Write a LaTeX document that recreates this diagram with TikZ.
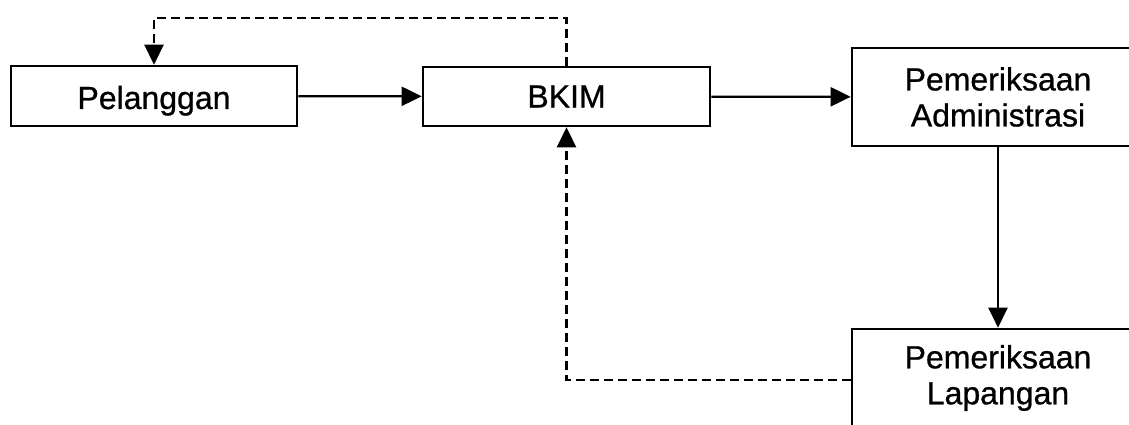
\documentclass[tikz,border=0pt]{standalone}
\usepackage{fontspec}
\setmainfont[FakeBold=0.8]{Liberation Sans}
\usetikzlibrary{arrows.meta}
\begin{document}
\begin{tikzpicture}[x=1pt,y=-1pt,
  box/.style={draw,line width=2.6pt,rectangle,inner sep=0pt,align=center,
    font=\fontsize{32}{36}\selectfont},
  flow/.style={line width=2.2pt,-{Triangle[length=20pt,width=19pt]}},
  back/.style={flow,line width=2.6pt,dash pattern=on 9pt off 5pt}]
\useasboundingbox (0,0) rectangle (1129,425);
\clip (0,0) rectangle (1129,425);
\node[box,minimum width=286pt,minimum height=60pt,text height=26pt,text depth=0pt] (P) at (154,96) {Pelanggan};
\node[box,minimum width=287pt,minimum height=59pt] (B) at (566.5,96.5) {BKIM};
\node[box,minimum width=292pt,minimum height=98pt] (A) at (998,97) {Pemeriksaan\\Administrasi};
\node[box,minimum width=292pt,minimum height=98pt] (L) at (998,378) {Pemeriksaan\\Lapangan};
\coordinate (top) at (360,18);
\draw[flow] (P) -- (B);
\draw[flow] (B) -- (A);
\draw[flow] (A.south) -- (L.north);
\draw[back] (B.north) -- (B.north |- top) -| (P.north);
\draw[back] ([yshift=-2pt]L.west) -| (B.south);
\end{tikzpicture}
\end{document}
